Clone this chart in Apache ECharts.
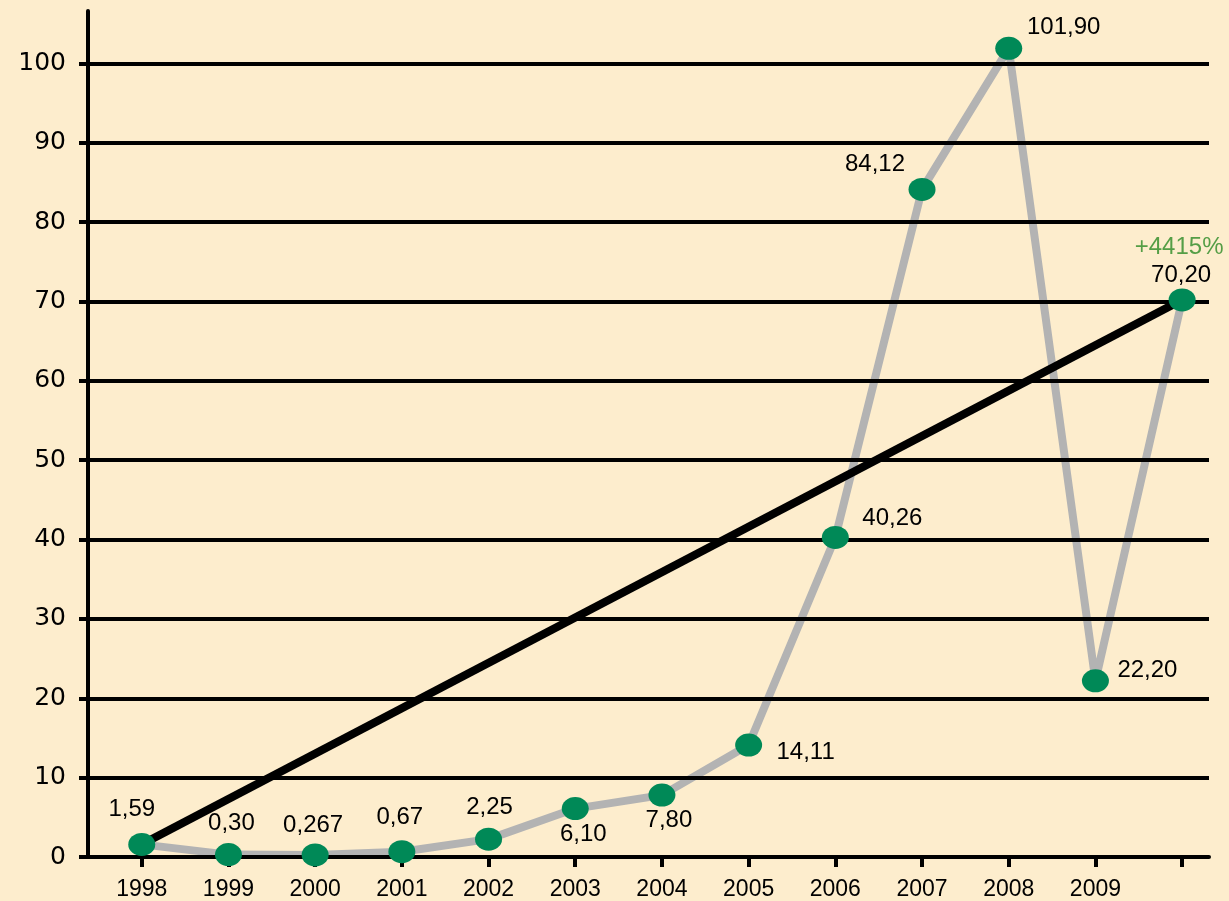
<!DOCTYPE html>
<html>
<head>
<meta charset="utf-8">
<script src="https://cdn.jsdelivr.net/npm/echarts@6/dist/echarts.min.js"></script>
<style>
html,body{margin:0;padding:0;background:#fdedcd;}
#c{width:1229px;height:901px;}
</style>
</head>
<body>
<div id="c"></div>
<script>
// ---- data ----
const years = ['1998','1999','2000','2001','2002','2003','2004','2005','2006','2007','2008','2009'];
const values = [1.59, 0.30, 0.267, 0.67, 2.25, 6.10, 7.80, 14.11, 40.26, 84.12, 101.90, 22.20, 70.20];
const trendIdx = [0, 12];
const trendValues = [1.59, 70.20];
const growthLabel = '+4415%';
const yTicks = [0,10,20,30,40,50,60,70,80,90,100];

// ---- layout of labels (relative to point) ----
const labelOffsets = [[-10,-35],[3,-31],[-2,-30],[-2,-34],[1,-32],[8,26],[7,25],[57,7],[57,-19],[-47,-25],[55,-21],[52,-10],[-1,-25]];

function fmt(v){
  const s = String(v);
  const d = s.indexOf('.') >= 0 ? s.split('.')[1].length : 0;
  return v.toFixed(Math.max(2, d)).replace('.', ',');
}

const pts = values.map((v,i)=>[i,v]);
const trendPts = trendIdx.map((x,i)=>[x, trendValues[i]]);
const xTickVals = values.map((v,i)=>i);
const xLabelVals = years.map((y,i)=>i);

const chart = echarts.init(document.getElementById('c'), null, {renderer:'canvas'});
chart.setOption({
  backgroundColor:'#fdedcd',
  animation:false,
  grid:{left:88, right:20, top:11, bottom:44},
  xAxis:{
    type:'value', min:-0.62, max:12.31, z:3,
    splitLine:{show:false},
    axisLine:{show:true, onZero:false, lineStyle:{color:'#000', width:4}},
    axisTick:{show:true, customValues:xTickVals, length:10, lineStyle:{color:'#000', width:4}},
    axisLabel:{customValues:xLabelVals, formatter:v=>years[Math.round(v)]||'', margin:21,
      fontFamily:'Liberation Sans', fontSize:23, color:'#000'}
  },
  yAxis:{
    type:'value', min:0, max:106.6, interval:10, z:3,
    axisLine:{show:true, onZero:false, lineStyle:{color:'#000', width:4}},
    axisTick:{show:true, customValues:yTicks, length:9, lineStyle:{color:'#000', width:4}},
    axisLabel:{customValues:yTicks, margin:22, fontFamily:'DejaVu Sans', fontSize:25, color:'#000'},
    splitLine:{show:true, showMinLine:false, lineStyle:{color:'#000', width:4}}
  },
  series:[
    {type:'line', data:pts, z:2, symbol:'none', lineStyle:{color:'#b3b3b3', width:8}, clip:false},
    {type:'line', data:trendPts, z:4, symbol:'none', lineStyle:{color:'#000', width:8}, clip:false},
    {type:'scatter', z:5, clip:false,
      data:pts.map((p,i)=>({value:p, label:{offset:labelOffsets[i]}})),
      symbol:'circle', symbolSize:[27,23], itemStyle:{color:'#008957', opacity:1},
      label:{show:true, position:'inside', color:'#000', fontFamily:'Liberation Sans', fontSize:24,
        formatter:p=>fmt(p.value[1])}},
    {type:'scatter', z:6, clip:false, symbolSize:0, silent:true,
      data:[{value:trendPts[trendPts.length-1]}],
      label:{show:true, position:'inside', offset:[-3,-53], color:'#2a8a24', fontFamily:'Liberation Sans', fontSize:24,
        formatter:()=>growthLabel}}
  ]
});
</script>
</body>
</html>
